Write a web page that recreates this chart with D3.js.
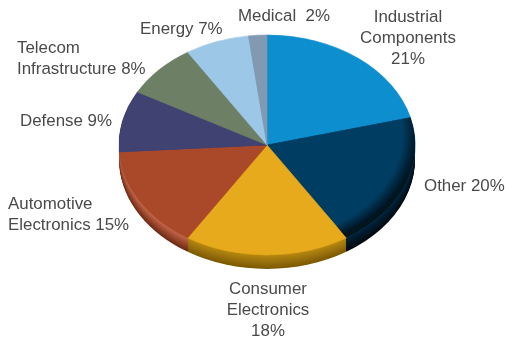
<!DOCTYPE html>
<html>
<head>
<meta charset="utf-8">
<script src="https://cdn.jsdelivr.net/npm/d3@7"></script>
<style>
  html, body { margin: 0; padding: 0; background: #fff; }
  svg { display: block; }
  text { font-family: "Liberation Sans", sans-serif; font-size: 16.9px; fill: #4a4a4a; white-space: pre; }
</style>
</head>
<body>
<svg id="chart"></svg>
<script>
const width = 505;
const height = 339;

// pie data, clockwise from 12 o'clock
const categories = ['Industrial Components', 'Other', 'Consumer Electronics', 'Automotive Electronics', 'Defense', 'Telecom Infrastructure', 'Energy', 'Medical'];
const shares = [21, 20, 18, 15, 9, 8, 7, 2];
const labelLines = [
  ['Industrial', 'Components', '21%'],
  ['Other 20%'],
  ['Consumer', 'Electronics', '18%'],
  ['Automotive', 'Electronics 15%'],
  ['Defense 9%'],
  ['Telecom', 'Infrastructure 8%'],
  ['Energy 7%'],
  ['Medical  2%']
];
const faceColors = ['#0d8ecf', '#003e64', '#e6aa1a', '#aa4a2c', '#3f4272', '#6d8066', '#9dc7e7', '#8299b2'];
const rimTopColors = ['#0d6a9a', '#00263e', '#b98a12', '#c9694a', '#2c2e52', '#4d5c48', '#7da0bb', '#63778c'];
const rimBottomColors = ['#084f75', '#050b10', '#7d5a04', '#6e2a16', '#1d1e38', '#3a4536', '#5f7a90', '#4a5a6c'];

// label placement: x, first baseline, anchor
const labelPlace = [
  [408, 22, 'middle'],
  [424, 191, 'start'],
  [268, 294, 'middle'],
  [8, 209, 'start'],
  [20, 126, 'start'],
  [17, 53, 'start'],
  [140, 34, 'start'],
  [238, 21, 'start']
];

const cx = 267;
const cy = 145;
const rx = 148;
const ry = 110;
const depth = 14;
const lineStep = 21;

const svg = d3.select('#chart')
  .attr('width', width)
  .attr('height', height)
  .attr('viewBox', [0, 0, width, height]);

const defs = svg.append('defs');
defs.append('filter')
  .attr('id', 'soft')
  .append('feGaussianBlur')
  .attr('stdDeviation', 0.55);

// dark edge on the right side of the top face
const shade = defs.append('radialGradient')
  .attr('id', 'edgeShade')
  .attr('gradientUnits', 'userSpaceOnUse')
  .attr('cx', -0.06)
  .attr('cy', -0.1)
  .attr('r', 1.08);
shade.append('stop').attr('offset', '90%').attr('stop-color', '#000').attr('stop-opacity', 0);
shade.append('stop').attr('offset', '100%').attr('stop-color', '#000').attr('stop-opacity', 0.7);

const pie = d3.pie().sort(null).value(d => d);
const slices = pie(shares);
const arc = d3.arc().innerRadius(0).outerRadius(1);

const chart = svg.append('g').attr('filter', 'url(#soft)');

// extruded side, stacked from the bottom up
const layers = d3.range(depth, 0, -1);
layers.forEach(dy => {
  const t = 1 - dy / depth;
  chart.append('g')
    .attr('transform', `translate(${cx},${cy + dy}) scale(${rx},${ry})`)
    .selectAll('path')
    .data(slices)
    .join('path')
    .attr('d', arc)
    .attr('fill', (d, i) => d3.interpolateRgb(rimBottomColors[i], rimTopColors[i])(t));
});

// top face
const face = chart.append('g')
  .attr('transform', `translate(${cx},${cy}) scale(${rx},${ry})`);

face.selectAll('path')
  .data(slices)
  .join('path')
  .attr('d', arc)
  .attr('fill', (d, i) => faceColors[i])
  .attr('stroke', (d, i) => faceColors[i])
  .attr('stroke-width', 0.005);

// only the Other slice carries the heavy edge shading
face.append('path')
  .attr('d', arc(slices[1]))
  .attr('fill', 'url(#edgeShade)');

const labels = svg.append('g')
  .attr('filter', 'url(#soft)')
  .selectAll('text')
  .data(labelLines)
  .join('text')
  .attr('text-anchor', (d, i) => labelPlace[i][2])
  .attr('aria-label', (d, i) => categories[i]);

labels.selectAll('tspan')
  .data((d, i) => d.map(line => ({ line, place: labelPlace[i] })))
  .join('tspan')
  .attr('x', d => d.place[0])
  .attr('y', (d, j) => d.place[1] + j * lineStep)
  .text(d => d.line);
</script>
</body>
</html>
